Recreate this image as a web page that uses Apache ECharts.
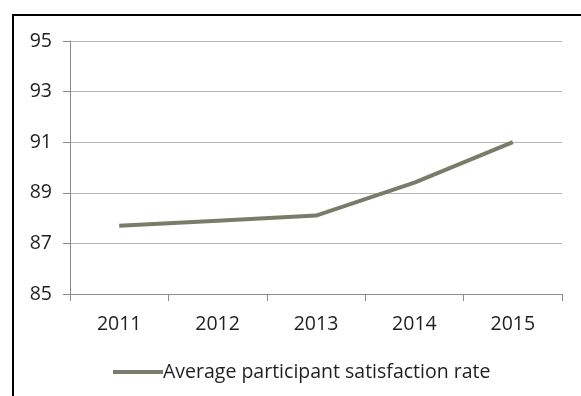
<!DOCTYPE html>
<html><head><meta charset="utf-8">
<script src="https://cdn.jsdelivr.net/npm/echarts@6/dist/echarts.min.js"></script>
<style>html,body{margin:0;padding:0;background:#fff;}#c{width:581px;height:396px;}</style>
</head><body><div id="c"></div>
<script>
const categories = ['2011', '2012', '2013', '2014', '2015'];
const satisfaction = [87.7, 87.9, 88.1, 89.4, 91.0];
const seriesName = 'Average participant satisfaction rate';
const yTicks = { min: 85, max: 95, interval: 2 };

const chart = echarts.init(document.getElementById('c'), null, { renderer: 'canvas' });
const font = 'Open Sans';
chart.setOption({
  animation: false,
  backgroundColor: '#fff',
  grid: { left: 70, right: 19, top: 41, bottom: 102, containLabel: false },
  graphic: [
    { type: 'line', shape: { x1: 13, y1: 15, x2: 600, y2: 15 }, style: { stroke: '#000', lineWidth: 2 } },
    { type: 'line', shape: { x1: 13, y1: 14, x2: 13, y2: 420 }, style: { stroke: '#000', lineWidth: 2 } }
  ],
  xAxis: {
    type: 'category',
    data: categories,
    boundaryGap: true,
    axisLine: { show: true, lineStyle: { color: '#8c8c8c', width: 1 } },
    axisTick: { show: true, length: 7, lineStyle: { color: '#8c8c8c' } },
    axisLabel: { color: '#1f1f1f', fontFamily: font, fontSize: 19.5, margin: 20 },
    splitLine: { show: false }
  },
  yAxis: {
    type: 'value',
    min: yTicks.min, max: yTicks.max, interval: yTicks.interval,
    axisLine: { show: true, lineStyle: { color: '#8c8c8c', width: 1 } },
    axisTick: { show: true, length: 7, lineStyle: { color: '#8c8c8c' } },
    axisLabel: { color: '#1f1f1f', fontFamily: font, fontSize: 19.5, margin: 18 },
    splitLine: { show: true, lineStyle: { color: '#b5b5b5', width: 1 } }
  },
  legend: {
    left: 113, top: 362, padding: 0,
    icon: 'rect', itemWidth: 50, itemHeight: 4,
    textStyle: { color: '#1f1f1f', fontFamily: font, fontSize: 19.5, padding: [0, 0, 0, -5] },
    data: [seriesName]
  },
  series: [{
    name: seriesName,
    type: 'line',
    data: satisfaction,
    showSymbol: false,
    symbol: 'none',
    lineStyle: { color: '#7b7b69', width: 4 },
    itemStyle: { color: '#7b7b69' }
  }]
});
</script></body></html>
